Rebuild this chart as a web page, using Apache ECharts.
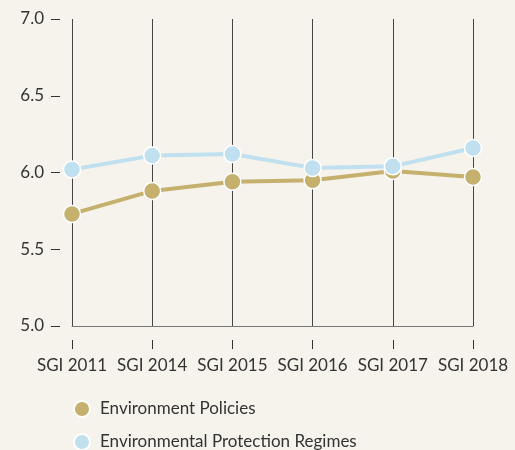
<!DOCTYPE html>
<html>
<head>
<meta charset="utf-8">
<script src="https://cdn.jsdelivr.net/npm/echarts@6/dist/echarts.min.js"></script>
<style>
  html, body { margin: 0; padding: 0; background: #f6f3ec; }
  #chart { width: 515px; height: 450px; }
</style>
</head>
<body>
<div id="chart"></div>
<script>
// data
const categories = ['SGI 2011', 'SGI 2014', 'SGI 2015', 'SGI 2016', 'SGI 2017', 'SGI 2018'];
const envPolicies = [5.73, 5.88, 5.94, 5.95, 6.01, 5.97];
const envRegimes = [6.02, 6.11, 6.12, 6.03, 6.04, 6.16];

const font = 'Lato';
const textColor = '#333';

const chart = echarts.init(document.getElementById('chart'));

const option = {
  backgroundColor: '#f6f3ec',
  textStyle: { fontFamily: font },
  grid: { left: 72, right: 42, top: 19, bottom: 124 },
  legend: {
    orient: 'vertical',
    left: 73,
    top: 400,
    height: 80,
    padding: 0,
    itemWidth: 16,
    itemHeight: 16,
    itemGap: 15,
    icon: 'circle',
    textStyle: { fontFamily: font, fontSize: 17, lineHeight: 16, color: textColor, padding: [0, 0, 0, 5] },
    data: ['Environment Policies', 'Environmental Protection Regimes']
  },
  xAxis: [
    {
      // grid lines + bottom line
      type: 'category',
      data: categories,
      boundaryGap: false,
      axisLine: { show: true, lineStyle: { color: '#777', width: 1 } },
      axisTick: { show: false },
      axisLabel: { show: false },
      splitLine: { show: true, lineStyle: { color: '#444', width: 1 } }
    },
    {
      // labels below, detached from the plot
      type: 'category',
      data: categories,
      boundaryGap: false,
      position: 'bottom',
      offset: 14,
      axisLine: { show: false },
      axisTick: { show: true, length: 9, interval: 0, lineStyle: { color: '#333' } },
      axisLabel: { fontFamily: font, fontSize: 17, color: textColor, margin: 17, interval: 0 },
      splitLine: { show: false }
    }
  ],
  yAxis: {
    type: 'value',
    min: 5,
    max: 7,
    interval: 0.5,
    offset: 12,
    axisLine: { show: false },
    axisTick: { show: true, length: 9, lineStyle: { color: '#333' } },
    axisLabel: {
      fontFamily: font, fontSize: 17, color: textColor, margin: 16,
      formatter: v => v.toFixed(1)
    },
    splitLine: { show: false }
  },
  series: [
    {
      name: 'Environment Policies',
      type: 'line',
      data: envPolicies,
      symbol: 'circle',
      symbolSize: 17,
      lineStyle: { color: '#c5b06d', width: 4 },
      itemStyle: { color: '#c5b06d', borderColor: '#fff', borderWidth: 1.5 },
      emphasis: { disabled: true }
    },
    {
      name: 'Environmental Protection Regimes',
      type: 'line',
      data: envRegimes,
      symbol: 'circle',
      symbolSize: 17,
      lineStyle: { color: '#c0e0f0', width: 4 },
      itemStyle: { color: '#c0e0f0', borderColor: '#fff', borderWidth: 1.5 },
      emphasis: { disabled: true }
    }
  ]
};

chart.setOption(option);
window.addEventListener('resize', function () { chart.resize(); });
</script>
</body>
</html>
